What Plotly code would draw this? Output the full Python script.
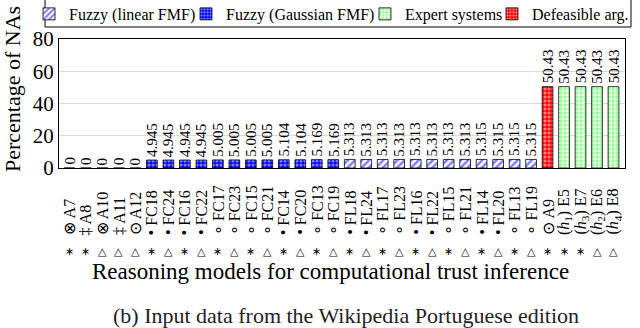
import plotly.graph_objects as go

# models (x categories), in plotted order
models = ["A7", "A8", "A10", "A11", "A12",
          "FC18", "FC24", "FC16", "FC22", "FC17", "FC23", "FC15", "FC21",
          "FC14", "FC20", "FC13", "FC19",
          "FL18", "FL24", "FL17", "FL23", "FL16", "FL22", "FL15", "FL21",
          "FL14", "FL20", "FL13", "FL19",
          "A9", "E5", "E7", "E6", "E8"]
nas = [0, 0, 0, 0, 0,
       4.945, 4.945, 4.945, 4.945, 5.005, 5.005, 5.005, 5.005,
       5.104, 5.104, 5.169, 5.169,
       5.313, 5.313, 5.313, 5.313, 5.313, 5.313, 5.313, 5.313,
       5.315, 5.315, 5.315, 5.315,
       50.43, 50.43, 50.43, 50.43, 50.43]
family = ["arg", "arg", "arg", "arg", "arg",
          "gauss", "gauss", "gauss", "gauss", "gauss", "gauss", "gauss", "gauss",
          "gauss", "gauss", "gauss", "gauss",
          "lin", "lin", "lin", "lin", "lin", "lin", "lin", "lin",
          "lin", "lin", "lin", "lin",
          "arg", "exp", "exp", "exp", "exp"]
mark1 = ["⊗", "‡", "⊗", "‡", "⊙",
         "•", "•", "•", "•", "∘", "∘", "∘", "∘", "•", "•", "∘", "∘",
         "•", "•", "∘", "∘", "•", "•", "∘", "∘", "•", "•", "∘", "∘",
         "⊙", "(<i>h</i><sub>1</sub>)", "(<i>h</i><sub>3</sub>)",
         "(<i>h</i><sub>2</sub>)", "(<i>h</i><sub>4</sub>)"]
mark2 = ["∗", "∗", "△", "△", "△",
         "∗", "△", "∗", "△", "∗", "△", "∗", "△", "∗", "△", "∗", "△",
         "∗", "△", "∗", "△", "∗", "△", "∗", "△", "∗", "△", "∗", "△",
         "∗", "∗", "∗", "△", "△"]

# key, legend name, legend slot, pattern
series = [
    ("lin", "Fuzzy (linear FMF)", "legend", dict(shape="/", fgcolor="#0000ff", bgcolor="white", size=5, solidity=0.5)),
    ("gauss", "Fuzzy (Gaussian FMF)", "legend2", dict(shape=".", fgcolor="white", bgcolor="#0000ff", size=4, solidity=0.5)),
    ("exp", "Expert systems", "legend3", dict(shape="+", fgcolor="#00ff00", bgcolor="white", size=4, solidity=0.5)),
    ("arg", "Defeasible arg.", "legend4", dict(shape=".", fgcolor="white", bgcolor="#ff0000", size=4, solidity=0.5)),
]
legend_x = [-0.053, 0.2244, 0.5406, 0.765]

FONT = "Liberation Serif, Times New Roman, serif"
fig = go.Figure()
for key, name, leg, pat in series:
    xs = [m for m, f in zip(models, family) if f == key]
    ys = [v for v, f in zip(nas, family) if f == key]
    fig.add_trace(go.Bar(
        x=xs, y=ys, name=name, legend=leg,
        marker=dict(color=pat["bgcolor"], pattern=pat,
                    line=dict(color="black", width=0.8)),
    ))

# value labels above bars, rotated
for m, v in zip(models, nas):
    fig.add_annotation(x=m, y=v, text=f"{v:g}", textangle=-90, yanchor="bottom",
                       yshift=1, showarrow=False,
                       font=dict(family=FONT, size=15, color="black"))

# rotated category labels + symbol row below
for m, a, b in zip(models, mark1, mark2):
    fig.add_annotation(x=m, y=-0.535, xref="x", yref="paper", text=f"{a} {m}",
                       textangle=-90, yanchor="bottom", showarrow=False,
                       font=dict(family=FONT, size=16, color="black"))
    fig.add_annotation(x=m, y=-0.645, xref="x", yref="paper", text=b,
                       yanchor="middle", showarrow=False,
                       font=dict(family="DejaVu Sans", size=11, color="black"))

fig.add_annotation(x=-0.083, y=0.612, xref="paper", yref="paper",
                   text="Percentage of NAs", textangle=-90,
                   showarrow=False, xanchor="center", yanchor="middle",
                   font=dict(family=FONT, size=22, color="black"))
fig.add_annotation(x=0.479, y=-0.805, xref="paper", yref="paper",
                   text="Reasoning models for computational trust inference",
                   showarrow=False, yanchor="middle",
                   font=dict(family=FONT, size=23, color="black"))
fig.add_annotation(x=0.507, y=-1.14, xref="paper", yref="paper",
                   text="(b) Input data from the Wikipedia Portuguese edition",
                   showarrow=False, yanchor="middle",
                   font=dict(family=FONT, size=22, color="#222"))

# legend frame
fig.add_shape(type="rect", xref="paper", yref="paper", x0=-0.0247, x1=1.0106,
              y0=1.093, y1=1.33, line=dict(color="black", width=1),
              fillcolor="rgba(0,0,0,0)", layer="above")

legends = {}
for (key, name, leg, pat), lx in zip(series, legend_x):
    legends[leg] = dict(orientation="h", x=lx, y=1.194, xanchor="left", yanchor="middle",
                        borderwidth=0, bgcolor="rgba(0,0,0,0)",
                        font=dict(family=FONT, size=16, color="black"), itemwidth=30)

fig.update_layout(
    width=640, height=328,
    margin=dict(l=59, r=15, t=39, b=160, autoexpand=False),
    plot_bgcolor="white", paper_bgcolor="white",
    barmode="overlay", bargap=0.35,
    font=dict(family=FONT, color="black"),
    showlegend=True,
    xaxis=dict(categoryorder="array", categoryarray=models, showticklabels=False,
               showline=True, linecolor="black", mirror=True, ticks=""),
    yaxis=dict(range=[0, 80], tickvals=[0, 20, 40, 60, 80], showgrid=True,
               gridcolor="#d9d9d9", showline=True, linecolor="black", mirror=True,
               ticks="", tickfont=dict(family=FONT, size=21)),
    **legends,
)

fig.write_html("out.html", config={"displayModeBar": False},
               post_script="document.body.style.margin='0px';")
